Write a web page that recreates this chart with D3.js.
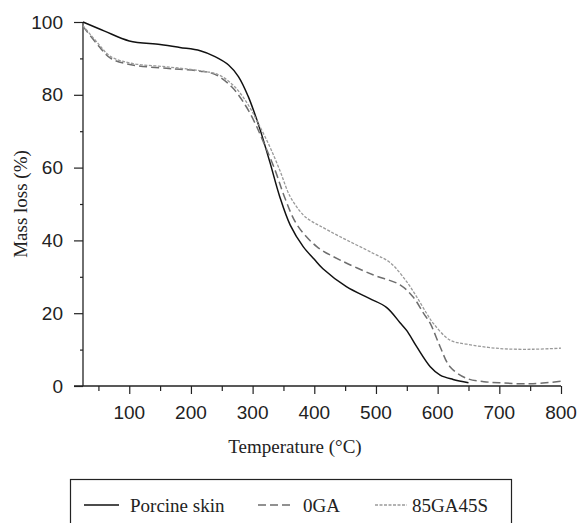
<!DOCTYPE html>
<html><head><meta charset="utf-8">
<script src="https://cdn.jsdelivr.net/npm/d3@7"></script>
<style>body{margin:0;background:#fff}svg{display:block}</style>
</head><body>
<svg id="c" width="579" height="523" font-family="'Liberation Serif', 'DejaVu Serif', serif"></svg>
<script>
const porcineT = [25, 60, 100, 150, 182, 215, 239, 261, 277, 293, 304, 312, 328, 344, 361, 382, 400, 414, 452, 490, 517, 539, 550, 566, 588, 604, 625, 650];
const porcineV = [100, 97.5, 94.8, 93.8, 93.0, 92.1, 90.5, 88.2, 85, 79.5, 74.5, 70.5, 61.5, 52, 44.2, 38.3, 34.8, 32.2, 27.3, 24.0, 21.6, 17.4, 15.2, 10.8, 5.3, 3.0, 1.8, 0.9];
const ga0T = [25, 50, 70, 105, 160, 182, 215, 239, 266, 288, 304, 315, 336, 352, 372, 404, 442, 496, 539, 561, 577, 588, 604, 620, 647, 675, 700, 750, 800];
const ga0V = [98.8, 93.5, 90, 88.2, 87.3, 87, 86.5, 85.6, 82.2, 77.2, 72.2, 68, 59.5, 51.8, 44.3, 38.3, 34.6, 30.5, 27.8, 24.3, 20, 17.2, 10.8, 5.3, 2.1, 1.2, 0.9, 0.6, 1.3];
const ga85T = [25, 50, 70, 105, 160, 215, 245, 271, 293, 309, 328, 344, 361, 382, 395, 409, 442, 496, 523, 550, 566, 582, 593, 620, 647, 700, 755, 800];
const ga85V = [99, 94, 90.5, 88.6, 87.7, 86.6, 85.5, 82.2, 77.2, 72.2, 65.7, 59.3, 52, 47, 45.3, 44, 41, 36.4, 33.9, 28.6, 24.5, 20, 17.2, 12.6, 11.5, 10.3, 10.1, 10.4];
const seriesNames = ["Porcine skin", "0GA", "85GA45S"];
const xTicks = [100, 200, 300, 400, 500, 600, 700, 800];
const yTicks = [0, 20, 40, 60, 80, 100];

const svg = d3.select("#c");
const x = d3.scaleLinear().domain([25, 800]).range([83, 561]);
const y = d3.scaleLinear().domain([0, 100]).range([386, 22]);

const styles = [
  {stroke: "#111", dash: null, w: 1.5},
  {stroke: "#6e6e6e", dash: "8,4", w: 1.5},
  {stroke: "#9a9a9a", dash: "3,1.5", w: 1.3}
];
const data = [
  porcineT.map((t, i) => [t, porcineV[i]]),
  ga0T.map((t, i) => [t, ga0V[i]]),
  ga85T.map((t, i) => [t, ga85V[i]])
];
const line = d3.line().x(d => x(d[0])).y(d => y(d[1])).curve(d3.curveCatmullRom.alpha(0.5));

// axes
const gx = svg.append("g").attr("transform", "translate(0,386)");
gx.call(d3.axisBottom(x).tickValues(d3.range(50, 801, 50)).tickSize(5).tickFormat(""));
gx.call(g => g.selectAll(".tick line").filter(d => d % 100 === 0).attr("y2", 8));
gx.select(".domain").remove();
gx.append("line").attr("x1", 74).attr("x2", 561).attr("stroke", "#222").attr("stroke-width", 1.3);
gx.selectAll(".tick line").attr("stroke", "#222").attr("stroke-width", 1.2);
gx.selectAll(null).data(xTicks).enter().append("text")
  .attr("x", d => x(d)).attr("y", 33).attr("text-anchor", "middle").attr("font-size", 19).attr("fill", "#222").text(d => d);

const gy = svg.append("g").attr("transform", "translate(83,0)");
gy.call(d3.axisLeft(y).tickValues(d3.range(0, 101, 10)).tickSize(3).tickFormat(""));
gy.call(g => g.selectAll(".tick line").filter(d => d % 20 === 0).attr("x2", -9));
gy.select(".domain").remove();
gy.append("line").attr("y1", 22).attr("y2", 386).attr("stroke", "#222").attr("stroke-width", 1.3);
gy.selectAll(".tick line").attr("stroke", "#222").attr("stroke-width", 1.2);
gy.selectAll(null).data(yTicks).enter().append("text")
  .attr("x", -20).attr("y", d => y(d) + 6.5).attr("text-anchor", "end").attr("font-size", 19).attr("fill", "#222").text(d => d);

// lines
svg.selectAll("path.s").data(data).enter().append("path").attr("class", "s")
  .attr("d", line).attr("fill", "none")
  .attr("stroke", (d, i) => styles[i].stroke)
  .attr("stroke-width", (d, i) => styles[i].w)
  .attr("stroke-dasharray", (d, i) => styles[i].dash);

// titles
svg.append("text").attr("x", 295).attr("y", 453).attr("text-anchor", "middle").attr("font-size", 19).attr("fill", "#222").text("Temperature (°C)");
svg.append("text").attr("transform", "translate(27,204) rotate(-90)").attr("text-anchor", "middle").attr("font-size", 19).attr("fill", "#222").text("Mass loss (%)");

// legend
svg.append("rect").attr("x", 70.5).attr("y", 479.5).attr("width", 441).attr("height", 60).attr("fill", "none").attr("stroke", "#222").attr("stroke-width", 1.2);
const leg = [{x1: 84, x2: 119, tx: 130}, {x1: 258, x2: 293, tx: 303}, {x1: 375, x2: 407, tx: 412}];
leg.forEach((l, i) => {
  svg.append("line").attr("x1", l.x1).attr("x2", l.x2).attr("y1", 505).attr("y2", 505)
    .attr("stroke", styles[i].stroke).attr("stroke-width", styles[i].w).attr("stroke-dasharray", styles[i].dash);
  svg.append("text").attr("x", l.tx).attr("y", 512).attr("font-size", 19).attr("fill", "#222").text(seriesNames[i]);
});
</script>
</body></html>
